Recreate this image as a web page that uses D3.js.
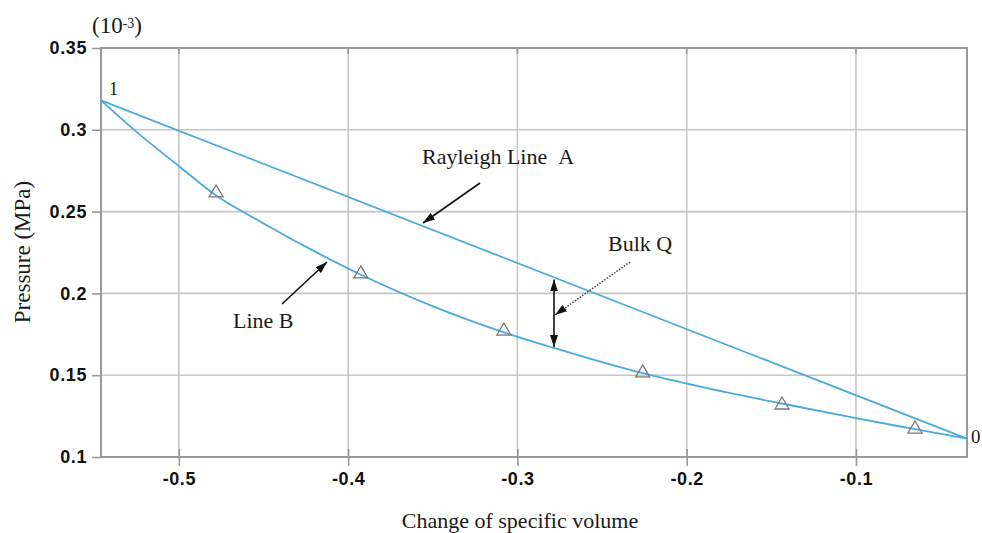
<!DOCTYPE html>
<html>
<head>
<meta charset="utf-8">
<script src="https://cdn.jsdelivr.net/npm/d3@7"></script>
<style>
  body { margin: 0; background: #fff; }
  svg { display: block; }
</style>
</head>
<body>
<div id="chart"></div>
<script>
// Rayleigh line A: straight line between state 1 and state 0
const lineA = [
  { v: -0.546, p: 0.318 },
  { v: -0.0344, p: 0.1112 },
];

// Line B (curve)
const lineB = [
  { v: -0.546, p: 0.318 },
  { v: -0.525, p: 0.2987 },
  { v: -0.499, p: 0.2770 },
  { v: -0.478, p: 0.2598 },
  { v: -0.452, p: 0.2440 },
  { v: -0.424, p: 0.2280 },
  { v: -0.393, p: 0.2117 },
  { v: -0.352, p: 0.1930 },
  { v: -0.308, p: 0.1762 },
  { v: -0.279, p: 0.1668 },
  { v: -0.226, p: 0.1512 },
  { v: -0.192, p: 0.1430 },
  { v: -0.144, p: 0.1327 },
  { v: -0.100, p: 0.1237 },
  { v: -0.065, p: 0.1170 },
  { v: -0.0344, p: 0.1112 },
];

// triangle markers
const markers = [
  { v: -0.478, p: 0.262 },
  { v: -0.3925, p: 0.2125 },
  { v: -0.308, p: 0.1776 },
  { v: -0.226, p: 0.152 },
  { v: -0.1437, p: 0.1324 },
  { v: -0.0651, p: 0.1177 },
];

const xTicks = [-0.5, -0.4, -0.3, -0.2, -0.1];
const yTicks = [0.1, 0.15, 0.2, 0.25, 0.3, 0.35];

const width = 982;
const height = 533;
const margin = { top: 48, right: 15, bottom: 76, left: 101 };

const svg = d3.select('#chart')
  .append('svg')
  .attr('width', width)
  .attr('height', height);

const x = d3.scaleLinear()
  .domain([-0.546, -0.0344])
  .range([margin.left, width - margin.right]);

const y = d3.scaleLinear()
  .domain([0.1, 0.35])
  .range([height - margin.bottom, margin.top]);

const blue = '#4aa9dd';
const gridColor = '#c6c6c6';
const axisColor = '#999';

// gridlines
svg.append('g')
  .selectAll('line')
  .data(xTicks)
  .join('line')
  .attr('x1', (d) => x(d)).attr('x2', (d) => x(d))
  .attr('y1', y(0.35)).attr('y2', y(0.1))
  .attr('stroke', gridColor)
  .attr('stroke-width', 1.6);

svg.append('g')
  .selectAll('line')
  .data(yTicks.slice(1, -1))
  .join('line')
  .attr('x1', x.range()[0]).attr('x2', x.range()[1])
  .attr('y1', (d) => y(d)).attr('y2', (d) => y(d))
  .attr('stroke', gridColor)
  .attr('stroke-width', 1.6);

// axes
const xAxis = svg.append('g')
  .attr('transform', `translate(0, ${y(0.1)})`)
  .call(d3.axisBottom(x).tickValues(xTicks).tickSize(9).tickPadding(6)
    .tickFormat((d) => String(d)));

const yAxis = svg.append('g')
  .attr('transform', `translate(${x.range()[0]}, 0)`)
  .call(d3.axisLeft(y).tickValues(yTicks).tickSize(9).tickPadding(5)
    .tickFormat((d) => String(d)));

[xAxis, yAxis].forEach((g) => {
  g.select('.domain').remove();
  g.selectAll('line').attr('stroke', axisColor).attr('stroke-width', 1.6);
  g.selectAll('text')
    .attr('fill', '#111')
    .style('font-family', 'Liberation Sans, Arial, sans-serif')
    .style('font-weight', 'bold')
    .style('font-size', '18px')
    .style('letter-spacing', '0.6px');
});
xAxis.selectAll('line').attr('y1', -8);

// top ticks
svg.append('g')
  .selectAll('line')
  .data(xTicks)
  .join('line')
  .attr('x1', (d) => x(d)).attr('x2', (d) => x(d))
  .attr('y1', y(0.35)).attr('y2', y(0.35) + 6)
  .attr('stroke', axisColor)
  .attr('stroke-width', 1.6);

// frame
svg.append('rect')
  .attr('x', x.range()[0])
  .attr('y', y(0.35))
  .attr('width', x.range()[1] - x.range()[0])
  .attr('height', y(0.1) - y(0.35))
  .attr('fill', 'none')
  .attr('stroke', axisColor)
  .attr('stroke-width', 2);

const line = d3.line()
  .x((d) => x(d.v))
  .y((d) => y(d.p))
  .curve(d3.curveMonotoneX);

svg.append('path')
  .datum(lineA)
  .attr('d', line)
  .attr('fill', 'none')
  .attr('stroke', blue)
  .attr('stroke-width', 1.8);

svg.append('path')
  .datum(lineB)
  .attr('d', line)
  .attr('fill', 'none')
  .attr('stroke', blue)
  .attr('stroke-width', 1.8);

svg.append('g')
  .selectAll('path')
  .data(markers)
  .join('path')
  .attr('transform', (d) => `translate(${x(d.v)}, ${y(d.p)})`)
  .attr('d', 'M0,-7L7,5L-7,5Z')
  .attr('fill', 'none')
  .attr('stroke', '#777')
  .attr('stroke-width', 1.3);

// annotations
const serif = 'Liberation Serif, Times New Roman, serif';

function label(text, px, py, size, anchor = 'start') {
  return svg.append('text')
    .attr('x', px).attr('y', py)
    .attr('text-anchor', anchor)
    .style('font-family', serif)
    .style('font-size', size + 'px')
    .attr('fill', '#1a1a1a')
    .text(text);
}

label('Rayleigh Line \u00a0A', 422, 164, 22);
label('Bulk Q', 608, 251, 22);
label('Line B', 233, 328, 22);
label('1', 109, 95, 18);
label('0', 971, 443, 19);

const exp = label('(10', 92, 33, 23);
exp.append('tspan').attr('baseline-shift', '38%').style('font-size', '14px').text('-3');
exp.append('tspan').text(')');

svg.append('text')
  .attr('transform', `translate(30, 252) rotate(-90)`)
  .attr('text-anchor', 'middle')
  .style('font-family', serif)
  .style('font-size', '23px')
  .attr('fill', '#1a1a1a')
  .text('Pressure (MPa)');

label('Change of specific volume', 520, 528, 22, 'middle');

const defs = svg.append('defs');
defs.append('marker')
  .attr('id', 'head')
  .attr('viewBox', '0 0 10 10')
  .attr('refX', 10).attr('refY', 5)
  .attr('markerWidth', 12).attr('markerHeight', 8)
  .attr('markerUnits', 'userSpaceOnUse')
  .attr('orient', 'auto-start-reverse')
  .attr('preserveAspectRatio', 'none')
  .append('path')
  .attr('d', 'M0,0L10,5L0,10Z')
  .attr('fill', '#111');

function arrow(x1, y1, x2, y2, dash, both) {
  const a = svg.append('line')
    .attr('x1', x1).attr('y1', y1)
    .attr('x2', x2).attr('y2', y2)
    .attr('stroke', dash ? '#444' : '#111')
    .attr('stroke-width', dash ? 1.5 : 1.6)
    .attr('marker-end', 'url(#head)');
  if (dash) a.attr('stroke-dasharray', '1.5,1.5');
  if (both) a.attr('marker-start', 'url(#head)');
}

arrow(480, 183, 423, 223);
arrow(282, 304, 327, 262);
arrow(630, 262, 555, 315, true);
arrow(554, y(0.2085), 554, y(0.1672), false, true);
</script>
</body>
</html>
